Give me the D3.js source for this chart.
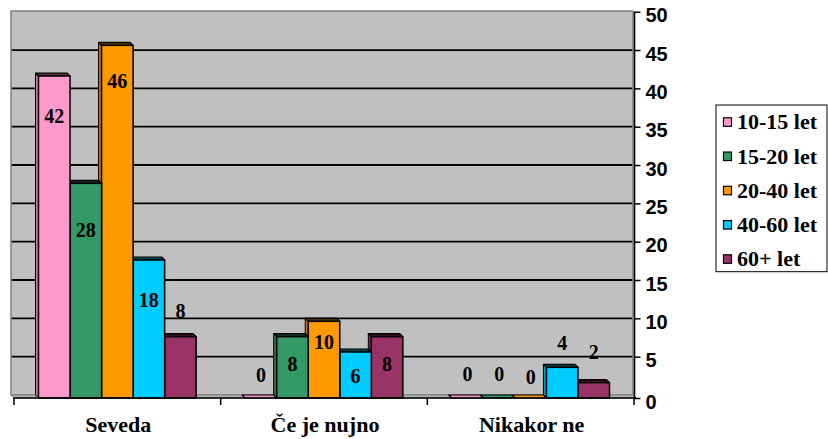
<!DOCTYPE html>
<html>
<head>
<meta charset="utf-8">
<script src="https://cdn.jsdelivr.net/npm/d3@7"></script>
<style>
  html, body { margin: 0; padding: 0; background: #ffffff; }
  svg { display: block; }
</style>
</head>
<body>
<svg id="chart" width="828" height="439"></svg>
<script>
// Answers by age group
const categories = ["Seveda", "Če je nujno", "Nikakor ne"];
const seriesNames = ["10-15 let", "15-20 let", "20-40 let", "40-60 let", "60+ let"];
const values1015 = [42, 0, 0];
const values1520 = [28, 8, 0];
const values2040 = [46, 10, 0];
const values4060 = [18, 6, 4];
const values60 = [8, 8, 2];
const valueTicks = [0, 5, 10, 15, 20, 25, 30, 35, 40, 45, 50];

// Layout: label baseline relative to the front top edge of each bar
const labelOffsets = [
  [46.7, -16.3, -17.3],
  [53.7, 34, -17.3],
  [42.7, 27.7, -13.7],
  [47, 31.3, -17.3],
  [-18.7, 34, -23.4]
];

const seriesValues = [values1015, values1520, values2040, values4060, values60];
const seriesColors = ["#ff99cc", "#339966", "#ff9900", "#00ccff", "#993366"];

const svg = d3.select("#chart");
const depthX = -3, depthY = -3;      // back plane offset from the front plane
const wallLeft = 11, wallRight = 633, wallTop = 11.7, wallBottom = 395;
const frontBottom = wallBottom - depthY;   // 398

// Value scale on the back wall, and its copy on the front plane
const yBack = d3.scaleLinear().domain([0, 50]).range([wallBottom, wallTop]);
const yFront = v => yBack(v) - depthY;

// Category bands on the front plane
const xCat = d3.scaleBand().domain(categories).range([14, 634]).paddingInner(0).paddingOuter(0);
const bandW = xCat.bandwidth();
const xSeries = d3.scaleBand().domain(seriesNames).range([bandW * 0.1185, bandW * 0.8815]).padding(0);

// Back wall
svg.append("rect")
  .attr("x", wallLeft).attr("y", 11)
  .attr("width", wallRight - wallLeft).attr("height", wallBottom - 11)
  .attr("fill", "#c0c0c0").attr("stroke", "#808080").attr("stroke-width", 1.5);

// Floor
svg.append("polygon")
  .attr("points", [[wallLeft, wallBottom], [wallRight, wallBottom], [wallRight - depthX, frontBottom], [wallLeft - depthX, frontBottom]].join(" "))
  .attr("fill", "#b4b4b4").attr("stroke", "#808080").attr("stroke-width", 1);

// Gridlines on the wall
svg.append("g").selectAll("line")
  .data(valueTicks.filter(t => t > 0 && t < 50))
  .join("line")
  .attr("x1", wallLeft + 0.75).attr("x2", wallRight - 0.75)
  .attr("y1", d => yBack(d)).attr("y2", d => yBack(d))
  .attr("stroke", "#000").attr("stroke-width", 1.8);

// Bars, drawn right to left so each front face covers its neighbour's side
const bars = [];
categories.forEach((cat, ci) => {
  seriesNames.forEach((s, si) => {
    bars.push({ cat, ci, s, si, v: seriesValues[si][ci] });
  });
});
bars.sort((a, b) => (b.ci * 10 + b.si) - (a.ci * 10 + a.si));

const barLayer = svg.append("g");
const shade = (c, k) => d3.color(c).darker(k).formatHex();

bars.forEach(b => {
  const x0 = xCat(b.cat) + xSeries(b.s);
  const x1 = x0 + xSeries.bandwidth();
  const yt = yFront(b.v);
  const yb = frontBottom;
  const col = seriesColors[b.si];
  const g = barLayer.append("g");
  // left side face
  g.append("polygon")
    .attr("points", [[x0, yt], [x0 + depthX, yt + depthY], [x0 + depthX, yb + depthY], [x0, yb]].join(" "))
    .attr("fill", shade(col, 0.7)).attr("stroke", "#000").attr("stroke-width", 1).attr("stroke-linejoin", "round");
  // top face
  g.append("polygon")
    .attr("points", [[x0, yt], [x0 + depthX, yt + depthY], [x1 + depthX, yt + depthY], [x1, yt]].join(" "))
    .attr("fill", b.v === 0 ? col : shade(col, 3)).attr("stroke", "#000").attr("stroke-width", 1.2).attr("stroke-linejoin", "round");
  // front face
  if (b.v > 0) {
    g.append("rect")
      .attr("x", x0).attr("y", yt)
      .attr("width", x1 - x0).attr("height", yb - yt)
      .attr("fill", col).attr("stroke", "#000").attr("stroke-width", 1.5);
  }
});

// Value labels
svg.append("g").selectAll("text")
  .data(bars)
  .join("text")
  .attr("x", d => xCat(d.cat) + xSeries(d.s) + xSeries.bandwidth() / 2)
  .attr("y", d => yFront(d.v) + labelOffsets[d.si][d.ci])
  .attr("text-anchor", "middle")
  .attr("font-family", "'Liberation Serif', 'Times New Roman', serif")
  .attr("font-weight", "bold")
  .attr("font-size", 20)
  .attr("fill", "#000")
  .text(d => d.v);

// Category axis along the front edge of the floor
svg.append("line")
  .attr("x1", wallLeft - depthX - 1).attr("x2", wallRight - depthX)
  .attr("y1", frontBottom).attr("y2", frontBottom)
  .attr("stroke", "#000").attr("stroke-width", 1.5);
const catEdges = categories.map(c => xCat(c)).concat([xCat.range()[1]]);
svg.append("g").selectAll("line")
  .data(catEdges)
  .join("line")
  .attr("x1", d => d).attr("x2", d => d)
  .attr("y1", frontBottom).attr("y2", frontBottom + 7)
  .attr("stroke", "#000").attr("stroke-width", 1.5);
svg.append("g").selectAll("text")
  .data(categories)
  .join("text")
  .attr("x", d => xCat(d) + bandW / 2 + 1)
  .attr("y", 432)
  .attr("text-anchor", "middle")
  .attr("font-family", "'Liberation Serif', 'Times New Roman', serif")
  .attr("font-weight", "bold")
  .attr("font-size", 22)
  .attr("fill", "#000")
  .text(d => d);

// Value axis on the right
const yAxis = d3.axisRight(yBack).tickValues(valueTicks).tickSize(6).tickPadding(5).tickFormat(d3.format("d"));
const axisG = svg.append("g").attr("transform", `translate(${wallRight + 1.5},0)`).call(yAxis);
axisG.select(".domain").remove();
axisG.append("line")
  .attr("x1", 0).attr("x2", 0)
  .attr("y1", wallTop).attr("y2", frontBottom + 1)
  .attr("stroke", "#000").attr("stroke-width", 1.6);
axisG.selectAll(".tick line").attr("stroke", "#000").attr("stroke-width", 1.5);
axisG.selectAll(".tick").filter(d => d === 0).attr("transform", `translate(0,${frontBottom + 0.5})`);
axisG.selectAll(".tick text")
  .attr("font-family", "'Liberation Sans', Arial, sans-serif")
  .attr("font-weight", "bold")
  .attr("font-size", 20)
  .attr("fill", "#000")
  .attr("dy", "0.5em");

// Legend
const legend = svg.append("g");
legend.append("rect")
  .attr("x", 716).attr("y", 105)
  .attr("width", 111).attr("height", 166.7)
  .attr("fill", "#fff").attr("stroke", "#000").attr("stroke-width", 1);
const legendRows = legend.selectAll("g.row")
  .data(seriesNames)
  .join("g")
  .attr("class", "row")
  .attr("transform", (d, i) => `translate(0,${129.3 + i * 34.25})`);
legendRows.append("rect")
  .attr("x", 723.5).attr("y", -11.5)
  .attr("width", 8).attr("height", 8.5)
  .attr("fill", (d, i) => seriesColors[i])
  .attr("stroke", "#000").attr("stroke-width", 1.2);
legendRows.append("text")
  .attr("x", 737)
  .attr("y", 0)
  .attr("font-family", "'Liberation Serif', 'Times New Roman', serif")
  .attr("font-weight", "bold")
  .attr("font-size", 22)
  .attr("fill", "#000")
  .text(d => d);
</script>
</body>
</html>
